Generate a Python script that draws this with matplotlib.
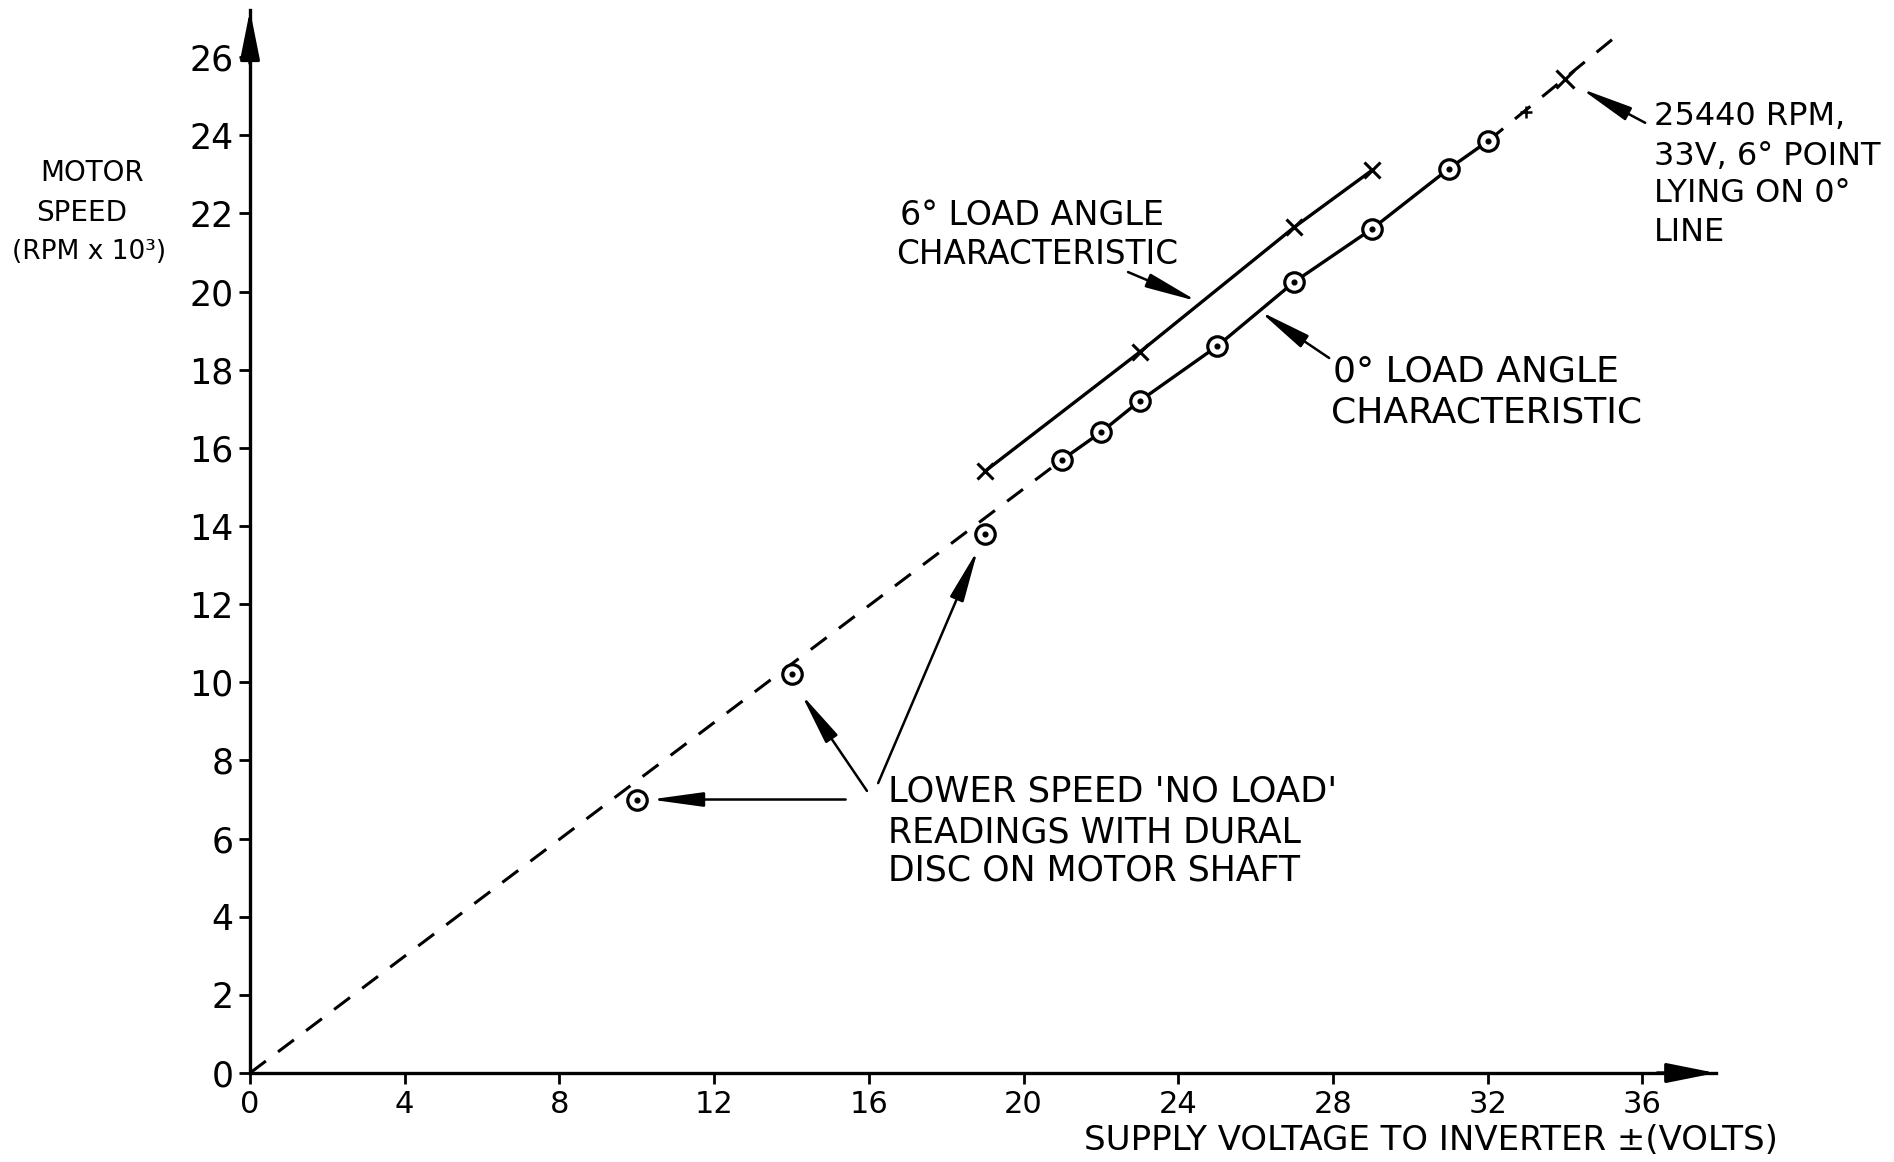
import matplotlib
matplotlib.use("Agg")
import matplotlib.pyplot as plt

plt.rcParams['font.family'] = ['DejaVu Sans']

# ---- measured data ----
# 0 deg load angle characteristic (supply volts, speed in 10^3 rpm)
zero_v = [21, 22, 23, 25, 27, 29, 31, 32]
zero_rpm = [15.7, 16.4, 17.2, 18.6, 20.25, 21.6, 23.15, 23.85]

# 6 deg load angle characteristic
six_v = [19, 23, 27, 29]
six_rpm = [15.4, 18.45, 21.65, 23.1]

# 6 deg point lying on the 0 deg line
six_on_zero_v = [34]
six_on_zero_rpm = [25.44]

# small reference tick on the extrapolated line
tick_v = [33]
tick_rpm = [24.6]

# lower speed 'no load' readings with dural disc
noload_v = [10, 14, 19]
noload_rpm = [7.0, 10.2, 13.8]

# extrapolated (dashed) portions of the 0 deg line
dash_low_v = [0, 21]
dash_low_rpm = [0, 15.7]
dash_high_v = [32, 35.4]
dash_high_rpm = [23.85, 26.6]

x_ticks = [0, 4, 8, 12, 16, 20, 24, 28, 32, 36]
y_ticks = [0, 2, 4, 6, 8, 10, 12, 14, 16, 18, 20, 22, 24, 26]

# ---- figure and axes ----
FW, FH = 1894, 1162
X0, Y0 = 250, 1073          # origin in pixels
SX, SY = 38.68, 39.07       # pixels per unit
XMAX, YMAX = 37.9, 27.2

fig = plt.figure(figsize=(FW / 100, FH / 100), dpi=100)
ax = fig.add_axes([X0 / FW, (FH - Y0) / FH, SX * XMAX / FW, SY * YMAX / FH])
ax.set_xlim(0, XMAX)
ax.set_ylim(0, YMAX)

for s in ('top', 'right'):
    ax.spines[s].set_visible(False)
for s in ('left', 'bottom'):
    ax.spines[s].set_linewidth(2.4)

ax.set_xticks(x_ticks)
ax.set_yticks(y_ticks)
ax.set_xticklabels([str(v) for v in x_ticks])
ax.set_yticklabels([str(v) for v in y_ticks])
ax.tick_params(axis='x', direction='out', length=8, width=2, labelsize=22, pad=4)
ax.tick_params(axis='y', direction='out', length=8, width=2, labelsize=25, pad=4)

# axis arrowheads
head = '-|>,head_length=1.5,head_width=0.3'
ax.annotate('', xy=(1.0, 0), xytext=(0.96, 0), xycoords='axes fraction',
            arrowprops=dict(arrowstyle=head, color='black', lw=2.4,
                            mutation_scale=20, shrinkA=0, shrinkB=0),
            annotation_clip=False)
ax.annotate('', xy=(0, 1.0), xytext=(0, 0.95), xycoords='axes fraction',
            arrowprops=dict(arrowstyle=head, color='black', lw=2.4,
                            mutation_scale=20, shrinkA=0, shrinkB=0),
            annotation_clip=False)

# ---- lines ----
dash = (6.5, 5)
ax.plot(dash_low_v, dash_low_rpm, color='black', lw=2.2, dashes=dash,
        clip_on=False)
ax.plot(dash_high_v, dash_high_rpm, color='black', lw=2.2, dashes=dash,
        clip_on=False)
ax.plot(zero_v, zero_rpm, color='black', lw=2.4, solid_capstyle='round')
ax.plot(six_v, six_rpm, color='black', lw=2.4, solid_capstyle='round')

# ---- markers ----
circ = dict(linestyle='none', marker='o', markersize=14, markerfacecolor='white',
            markeredgecolor='black', markeredgewidth=2.3, zorder=4)
dot = dict(linestyle='none', marker='o', markersize=3.4, color='black', zorder=5)
for xs, ys in ((zero_v, zero_rpm), (noload_v, noload_rpm)):
    ax.plot(xs, ys, **circ)
    ax.plot(xs, ys, **dot)

ax.plot(six_v, six_rpm, linestyle='none', marker='x', markersize=12,
        markeredgewidth=2.2, color='black', zorder=4)
ax.plot(six_on_zero_v, six_on_zero_rpm, linestyle='none', marker='x',
        markersize=13, markeredgewidth=2.2, color='black', zorder=4)
ax.plot(tick_v, tick_rpm, linestyle='none', marker='+', markersize=8,
        markeredgewidth=1.8, color='black', zorder=4)

# ---- annotations ----
arr = dict(arrowstyle='-|>,head_length=1.6,head_width=0.22', color='black',
           lw=1.8, mutation_scale=20, shrinkA=0, shrinkB=0)

def note(xy, xytext):
    ax.annotate('', xy=xy, xytext=xytext, xycoords='data',
                arrowprops=arr, annotation_clip=False)

txt = dict(ha='left', va='center', color='black')

ax.text(16.8, 21.95, '6° LOAD ANGLE', fontsize=24, **txt)
ax.text(16.7, 20.95, 'CHARACTERISTIC', fontsize=23.5, **txt)
note((24.5, 19.75), (22.7, 20.5))

ax.text(28.0, 17.95, '0° LOAD ANGLE', fontsize=26, **txt)
ax.text(27.95, 16.9, 'CHARACTERISTIC', fontsize=26, **txt)
note((26.1, 19.5), (27.9, 18.3))

ax.text(36.3, 24.47, '25440 RPM,', fontsize=23, **txt)
ax.text(36.3, 23.47, '33V, 6° POINT', fontsize=23, **txt)
ax.text(36.3, 22.52, 'LYING ON 0°', fontsize=23, **txt)
ax.text(36.3, 21.5, 'LINE', fontsize=23, **txt)
note((34.4, 25.2), (36.07, 24.32))

ax.text(16.5, 7.2, "LOWER SPEED 'NO LOAD'", fontsize=25.5, **txt)
ax.text(16.5, 6.15, 'READINGS WITH DURAL', fontsize=25, **txt)
ax.text(16.5, 5.18, 'DISC ON MOTOR SHAFT', fontsize=25, **txt)
note((10.35, 7.0), (15.4, 7.0))
note((14.25, 9.7), (15.95, 7.22))
note((18.82, 13.4), (16.24, 7.42))

# ---- axis titles ----
fig.text(40 / FW, 1 - 173 / FH, 'MOTOR', fontsize=20, ha='left', va='center')
fig.text(36 / FW, 1 - 213 / FH, 'SPEED', fontsize=20, ha='left', va='center')
fig.text(12 / FW, 1 - 252 / FH, '(RPM x 10³)', fontsize=19, ha='left', va='center')
fig.text(1084 / FW, 1 - 1140 / FH, 'SUPPLY VOLTAGE TO INVERTER ±(VOLTS)',
         fontsize=24.5, ha='left', va='center')

fig.savefig('out.png', dpi=100)
